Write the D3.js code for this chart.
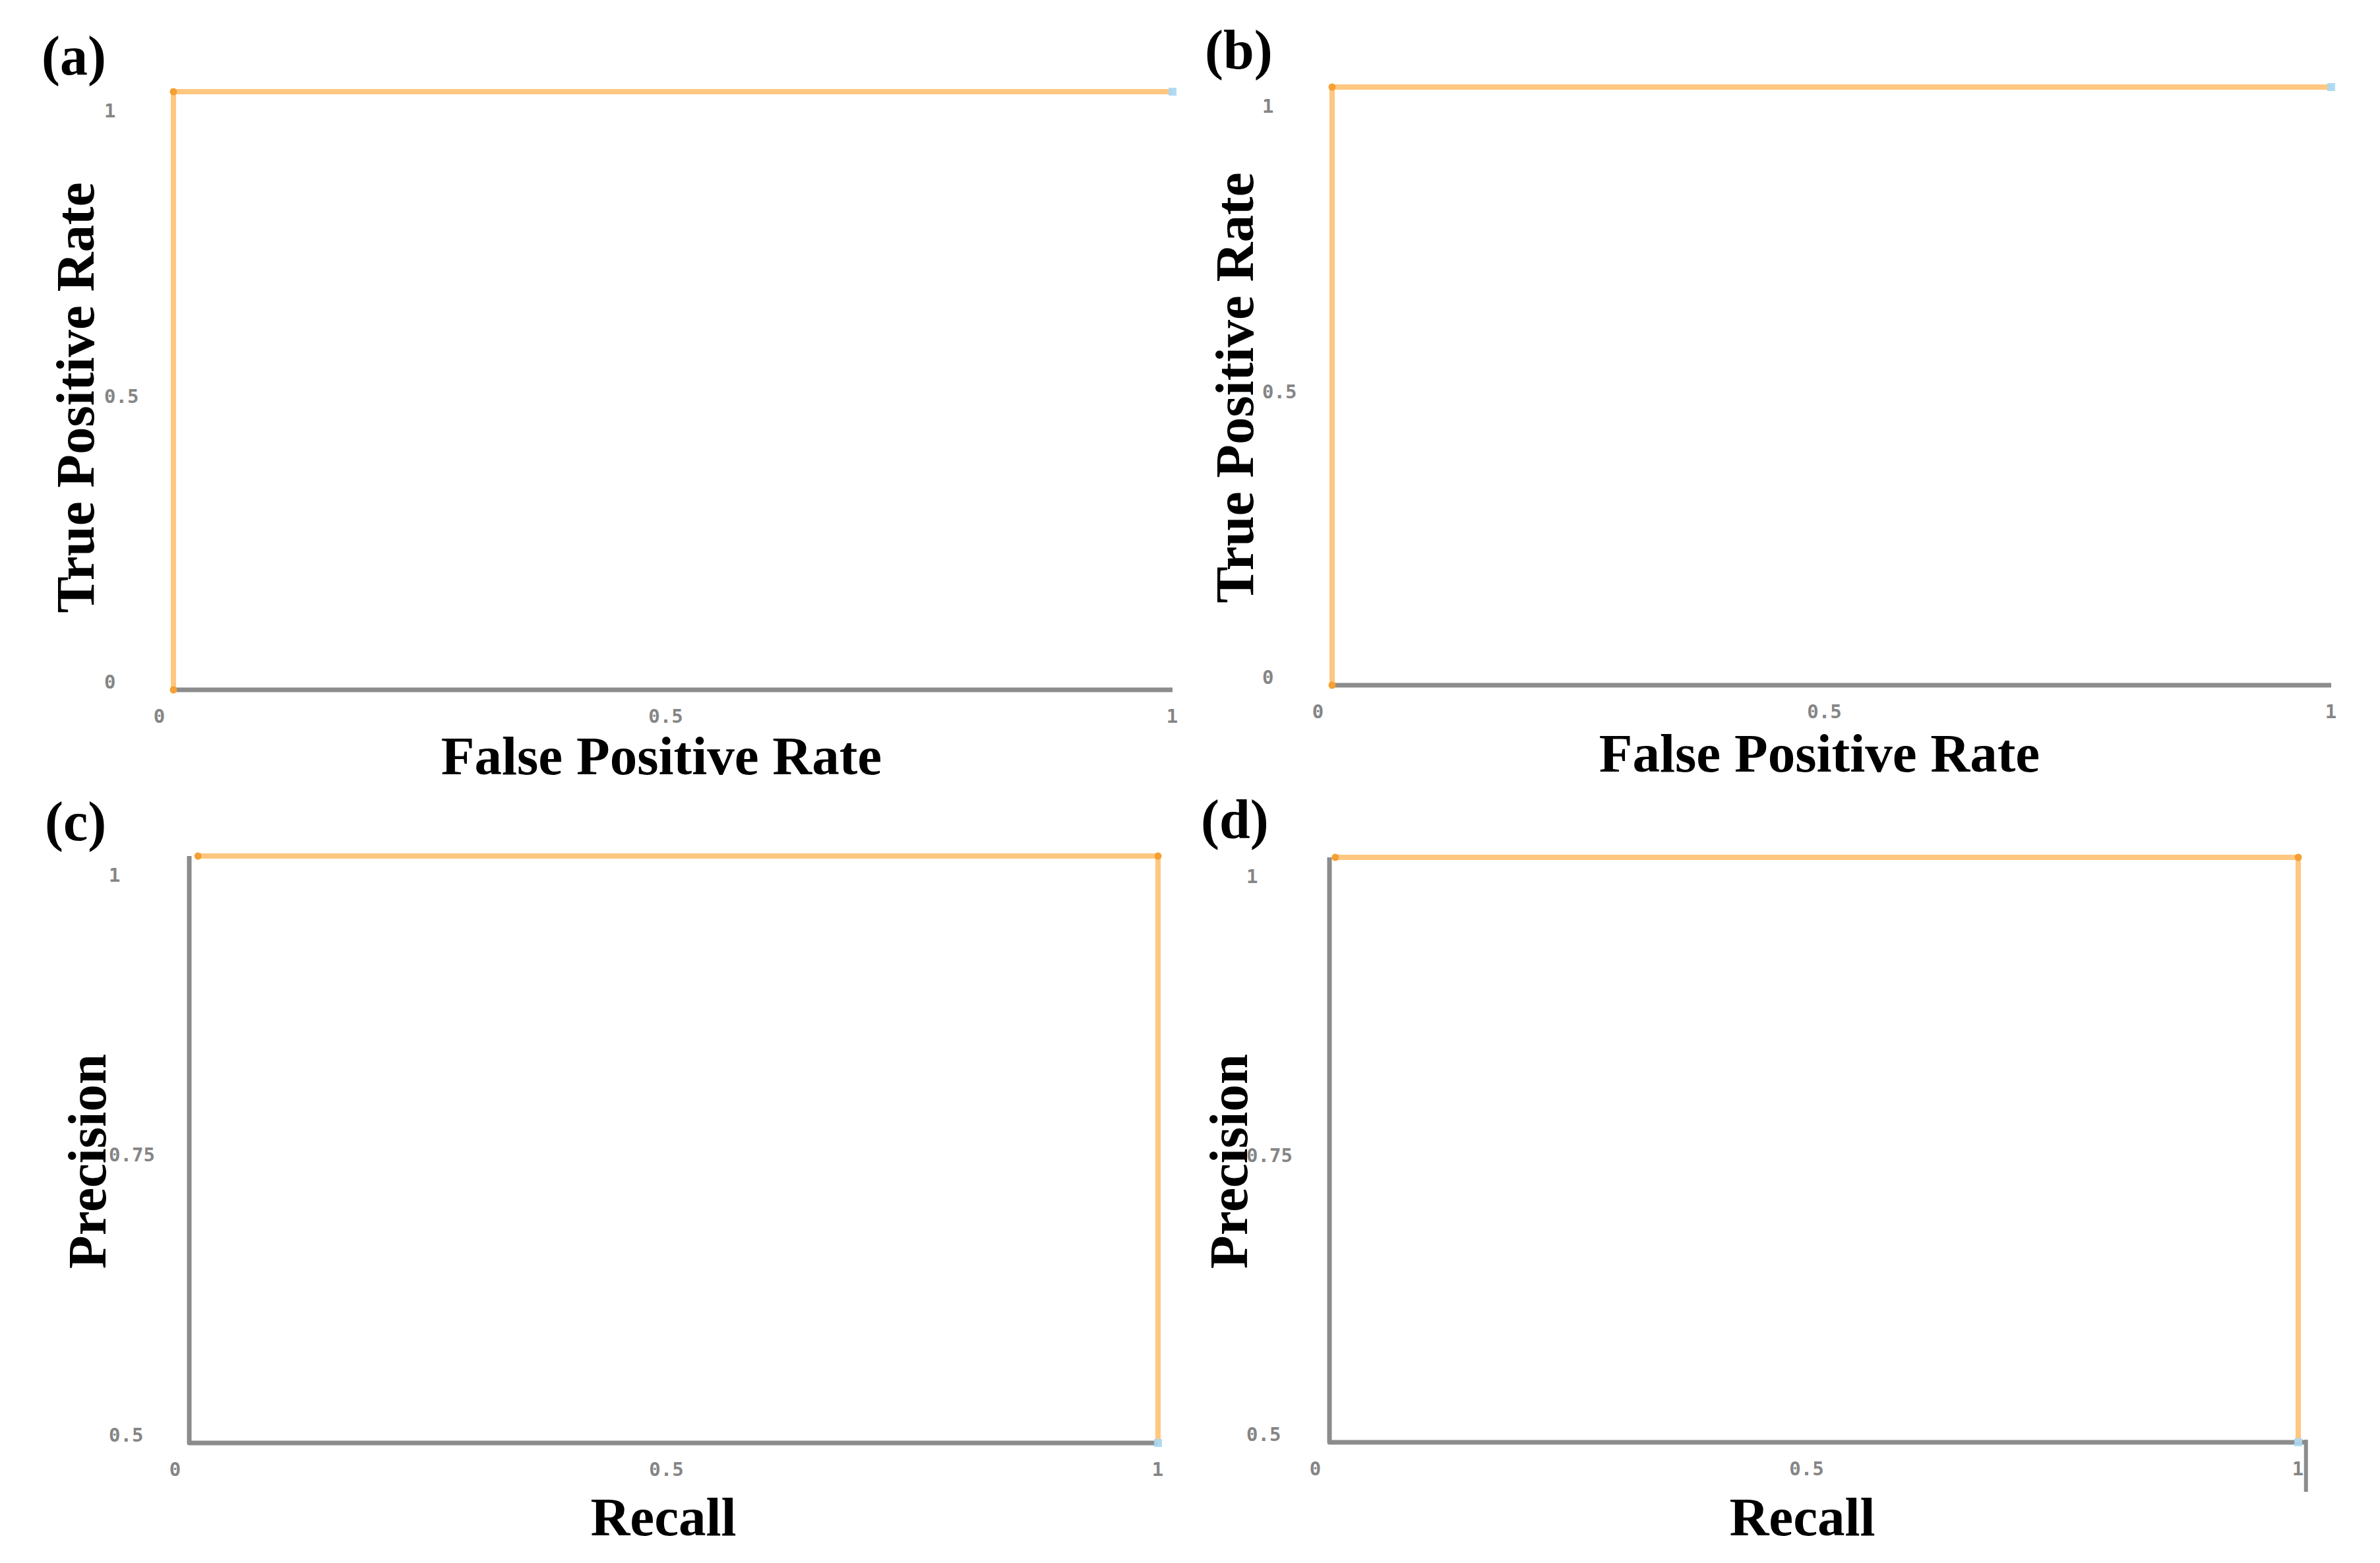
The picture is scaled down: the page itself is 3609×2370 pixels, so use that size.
<!DOCTYPE html>
<html>
<head>
<meta charset="utf-8">
<script src="https://cdn.jsdelivr.net/npm/d3@7"></script>
<style>
  html, body { margin: 0; padding: 0; background: #fff; }
  svg { display: block; }
</style>
</head>
<body>
<script>
// ---------------- DATA ----------------
const panelLetters = ["(a)", "(b)", "(c)", "(d)"];

// ROC curves (a), (b)
const rocFprA = [0, 0, 1];
const rocTprA = [0, 1, 1];
const rocFprB = [0, 0, 1];
const rocTprB = [0, 1, 1];

// Precision-Recall curves (c), (d)
const prRecallC = [0.009, 1, 1];
const prPrecisionC = [1, 1, 0.5];
const prRecallD = [0.006, 1, 1];
const prPrecisionD = [1, 1, 0.5];

// tick values
const rocXTicks = [0, 0.5, 1];
const rocYTicks = [0, 0.5, 1];
const prXTicks = [0, 0.5, 1];
const prYTicks = [0.5, 0.75, 1];

// axis titles
const rocXTitle = "False Positive Rate";
const rocYTitle = "True Positive Rate";
const prXTitle = "Recall";
const prYTitle = "Precision";

// ---------------- LAYOUT ----------------
const W = 3609, H = 2370;
const svg = d3.select("body").append("svg").attr("width", W).attr("height", H);

const panels = [
  { letter: panelLetters[0], lx: 63, ly: 113,
    xs: rocFprA, ys: rocTprA, xTicks: rocXTicks, yTicks: rocYTicks, xDom: [0, 1], yDom: [0, 1], axisXEnd: 1,
    x0: 263, x1: 1778, yb: 1046, yt: 139, yLabX: 158,
    xTitle: rocXTitle, yTitle: rocYTitle, xtX: 1003, xtY: 1174, ytX: 142, ytY: 603, endTick: false },
  { letter: panelLetters[1], lx: 1827, ly: 104,
    xs: rocFprB, ys: rocTprB, xTicks: rocXTicks, yTicks: rocYTicks, xDom: [0, 1], yDom: [0, 1], axisXEnd: 1,
    x0: 2020, x1: 3535, yb: 1039, yt: 132, yLabX: 1914,
    xTitle: rocXTitle, yTitle: rocYTitle, xtX: 2759, xtY: 1170, ytX: 1900, ytY: 588, endTick: false },
  { letter: panelLetters[2], lx: 68, ly: 1274,
    xs: prRecallC, ys: prPrecisionC, xTicks: prXTicks, yTicks: prYTicks, xDom: [0, 1], yDom: [0.5, 1], axisXEnd: 1,
    x0: 287, x1: 1756, yb: 2188, yt: 1298, yLabX: 165,
    xTitle: prXTitle, yTitle: prYTitle, xtX: 1006, xtY: 2328, ytX: 160, ytY: 1761, endTick: false },
  { letter: panelLetters[3], lx: 1821, ly: 1271,
    xs: prRecallD, ys: prPrecisionD, xTicks: prXTicks, yTicks: prYTicks, xDom: [0, 1], yDom: [0.5, 1], axisXEnd: 1.008,
    x0: 2016, x1: 3485, yb: 2187, yt: 1300, yLabX: 1890,
    xTitle: prXTitle, yTitle: prYTitle, xtX: 2733, xtY: 2328, ytX: 1891, ytY: 1761, endTick: true }
];

const ORANGE = "#ffc77f";
const ORANGE_DOT = "#f5a032";
const GRAY = "#8c8c8c";
const BLUE = "#a9d7f3";
const serif = "'Liberation Serif', 'Times New Roman', serif";
const mono = "'DejaVu Sans Mono', 'Liberation Mono', monospace";

panels.forEach(p => {
  const g = svg.append("g");
  const x = d3.scaleLinear().domain(p.xDom).range([p.x0, p.x1]);
  const y = d3.scaleLinear().domain(p.yDom).range([p.yb, p.yt]);
  // label scales (tick labels are drawn slightly offset from the data positions)
  const xl = d3.scaleLinear().domain(p.xDom).range([p.x0 - 22, p.x1 - 1]);
  const yl = d3.scaleLinear().domain(p.yDom).range([p.yb - 13, p.yt + 28]);

  // axes lines (gray, L-shape with rounded corner)
  const axisPath = d3.path();
  axisPath.moveTo(x(p.xDom[0]), y(p.yDom[1]));
  axisPath.lineTo(x(p.xDom[0]), y(p.yDom[0]));
  axisPath.lineTo(x(p.axisXEnd), y(p.yDom[0]));
  g.append("path").attr("d", axisPath.toString())
    .attr("fill", "none").attr("stroke", GRAY).attr("stroke-width", 7)
    .attr("stroke-linejoin", "round");
  if (p.endTick) {
    g.append("line")
      .attr("x1", x(p.axisXEnd)).attr("x2", x(p.axisXEnd))
      .attr("y1", y(p.yDom[0]) - 4).attr("y2", y(p.yDom[0]) + 75)
      .attr("stroke", GRAY).attr("stroke-width", 6);
  }

  // x tick labels
  const xAxis = d3.axisBottom(xl).tickValues(p.xTicks).tickSize(0).tickFormat(d => String(d));
  const xa = g.append("g").attr("transform", `translate(0,${p.yb + 28})`).call(xAxis);
  xa.select(".domain").remove();
  xa.selectAll("text").attr("font-family", mono).attr("font-size", 29).attr("font-weight", "bold")
    .attr("fill", "#858585").attr("dy", "0.35em").attr("y", 12);

  // y tick labels
  const yAxis = d3.axisLeft(yl).tickValues(p.yTicks).tickSize(0).tickFormat(d => String(d));
  const ya = g.append("g").attr("transform", `translate(${p.yLabX},0)`).call(yAxis);
  ya.select(".domain").remove();
  ya.selectAll("text").attr("font-family", mono).attr("font-size", 29).attr("font-weight", "bold")
    .attr("fill", "#858585").attr("text-anchor", "start").attr("x", 0).attr("dy", "0.35em");

  // curve
  const pts = p.xs.map((v, i) => [v, p.ys[i]]);
  const line = d3.line().x(d => x(d[0])).y(d => y(d[1]));
  g.append("path").attr("d", line(pts))
    .attr("fill", "none").attr("stroke", ORANGE).attr("stroke-width", 8)
    .attr("stroke-linejoin", "miter");
  g.selectAll("circle.pt").data(pts.slice(0, -1)).enter().append("circle")
    .attr("cx", d => x(d[0])).attr("cy", d => y(d[1])).attr("r", 5.5)
    .attr("fill", ORANGE_DOT);
  const last = pts[pts.length - 1];
  g.append("rect")
    .attr("x", x(last[0]) - 6).attr("y", y(last[1]) - 6)
    .attr("width", 12).attr("height", 12)
    .attr("fill", BLUE).attr("opacity", 0.9);

  // titles
  g.append("text").text(p.xTitle)
    .attr("x", p.xtX).attr("y", p.xtY)
    .attr("text-anchor", "middle").attr("font-family", serif)
    .attr("font-weight", "bold").attr("font-size", 83).attr("fill", "#000");
  g.append("text").text(p.yTitle)
    .attr("transform", `translate(${p.ytX},${p.ytY}) rotate(-90)`)
    .attr("text-anchor", "middle").attr("font-family", serif)
    .attr("font-weight", "bold").attr("font-size", 83).attr("fill", "#000");
  g.append("text").text(p.letter)
    .attr("x", p.lx).attr("y", p.ly)
    .attr("font-family", serif).attr("font-weight", "bold")
    .attr("font-size", 84).attr("fill", "#000");
});
</script>
</body>
</html>
